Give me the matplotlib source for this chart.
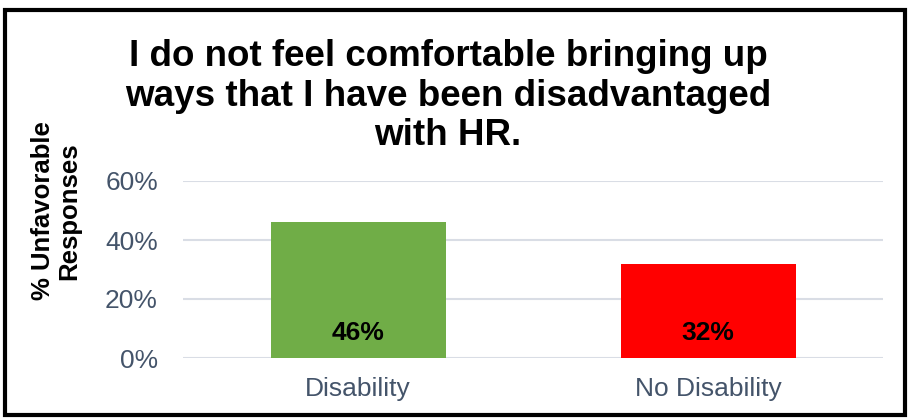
import matplotlib.pyplot as plt
from matplotlib.patches import Rectangle

categories = ['Disability', 'No Disability']
values = [0.46, 0.32]
bar_colors = ['#70AD47', '#FF0000']
yticks = [0, 0.2, 0.4, 0.6]
ytick_labels = ['0%', '20%', '40%', '60%']

plt.rcParams['font.family'] = ['Liberation Sans', 'DejaVu Sans']

fig = plt.figure(figsize=(9.09, 4.2), dpi=100)
ax = fig.add_axes([183/909, 62/420, 700/909, 177/420])

x = range(len(categories))
ax.bar(x, values, width=0.5, color=bar_colors, zorder=3)
for i, v in enumerate(values):
    ax.text(i, 0.085, '%d%%' % round(v * 100), ha='center', va='center',
            fontsize=19, fontweight='bold', color='black', zorder=4)

ax.set_xlim(-0.5, 1.5)
ax.set_ylim(0, 0.6)
ax.set_yticks(yticks)
ax.set_yticklabels(ytick_labels)
ax.set_xticks(list(x))
ax.set_xticklabels(categories)
ax.tick_params(axis='both', length=0, labelsize=19, colors='#44546A')
ax.tick_params(axis='y', pad=18)
ax.tick_params(axis='x', pad=14)
ax.yaxis.grid(True, color='#D9DDE5', linewidth=1.5, zorder=0)
ax.set_axisbelow(True)
for s in ax.spines.values():
    s.set_visible(False)

# title and y label
fig.text(448/909, (420 - 96)/420,
         'I do not feel comfortable bringing up\nways that I have been disadvantaged\nwith HR.',
         ha='center', va='center', fontsize=26.5, fontweight='bold', linespacing=1.17)
fig.text(56/909, (420 - 211)/420, '% Unfavorable\nResponses', rotation=90,
         ha='center', va='center', fontsize=18.5, fontweight='bold',
         multialignment='center', linespacing=1.1)

# black border round the chart
fig.patches.append(Rectangle((5/909, 5/420), 900/909, 405/420, transform=fig.transFigure,
                             fill=False, edgecolor='black', linewidth=3))

fig.savefig('out.png', dpi=100)
